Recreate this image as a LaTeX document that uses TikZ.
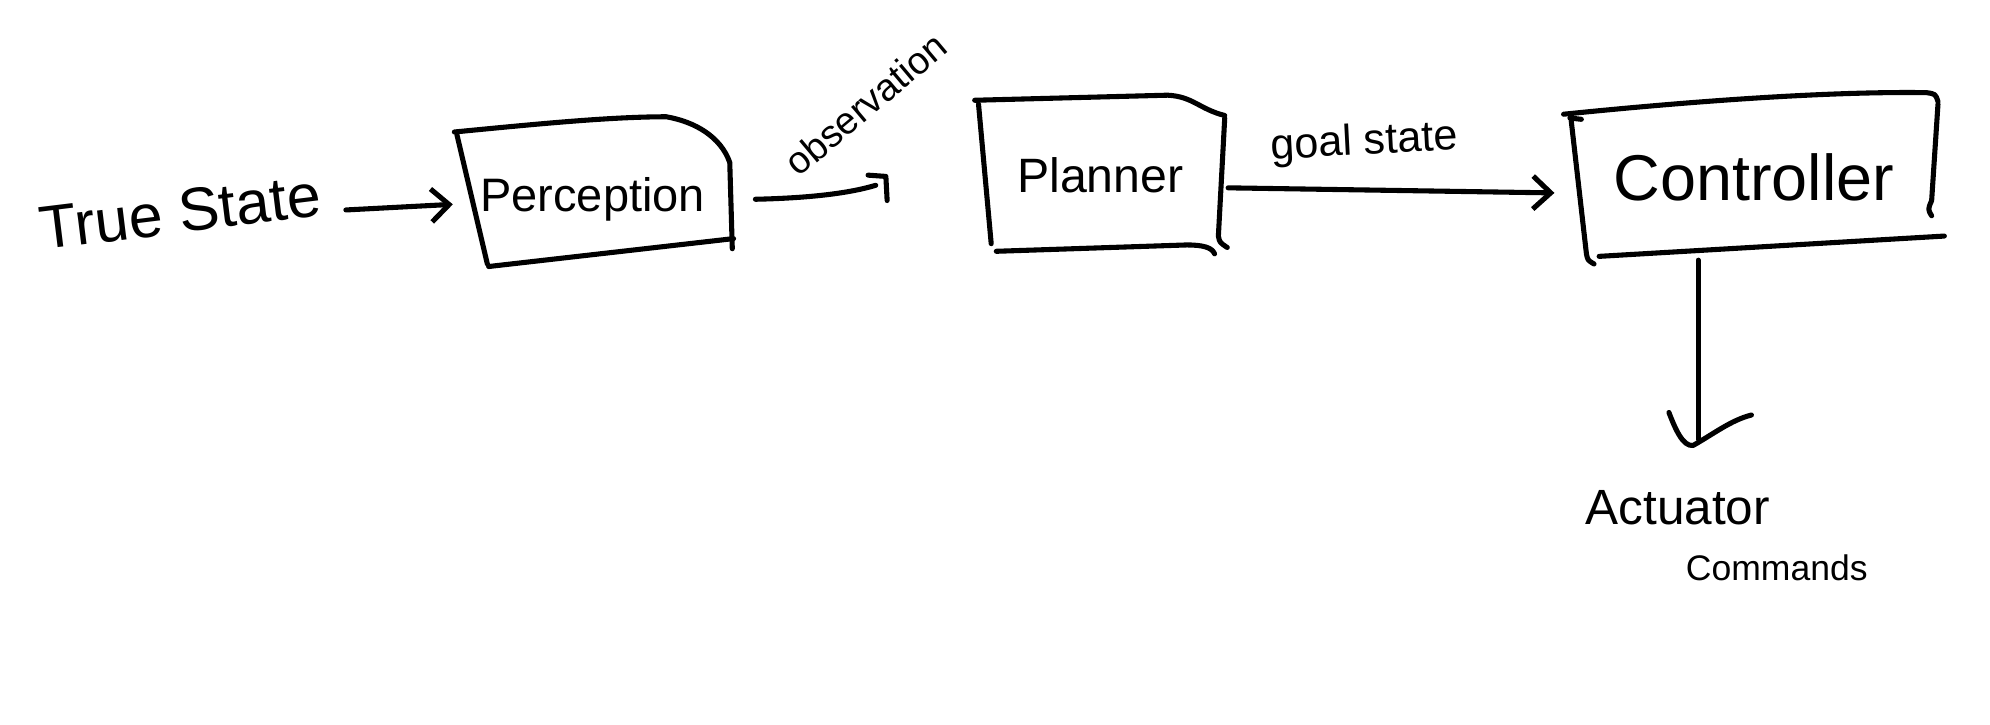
\documentclass[tikz,border=0pt]{standalone}
\usepackage{fontspec}
\setmainfont{Liberation Sans}
\usetikzlibrary{arrows.meta}
\begin{document}
\begin{tikzpicture}[x=1pt,y=1pt,
  pen/.style={line width=4pt, line cap=round, line join=round},
  con/.style={pen},
  barb/.style={-{Straight Barb[length=14pt,width=26pt,line width=4pt]}},
  lbl/.style={inner sep=0pt},
  blk/.style={inner sep=0pt}]
\useasboundingbox[fill=white] (0,0) rectangle (1568,-571);

% nodes
\node[lbl, rotate=7, font=\fontsize{48}{52}\selectfont] (ts) at (142,-167) {True State};
\node[blk, minimum width=220pt, minimum height=110pt, font=\fontsize{37}{40}\selectfont] (perc) at (467,-157) {Perception};
\node[blk, minimum width=195pt, minimum height=120pt, font=\fontsize{38}{40}\selectfont] (plan) at (867,-138) {Planner};
\node[blk, minimum width=290pt, minimum height=120pt, font=\fontsize{51}{54}\selectfont] (ctrl) at (1382,-140) {Controller};
\node[lbl, rotate=40, font=\fontsize{30}{34}\selectfont] (obs) at (682,-82) {observation};
\node[lbl, rotate=3, font=\fontsize{34}{38}\selectfont] (goal) at (1075,-113) {goal state};
\node[lbl, font=\fontsize{39}{43}\selectfont] (act) at (1322,-400) {Actuator};
\node[lbl, font=\fontsize{28}{32}\selectfont] (cmd) at (1400,-447) {Commands};

% Perception box
\draw[pen] (358,-104) .. controls (420,-98) and (480,-92) .. (525,-92)
           .. controls (548,-96) and (568,-108) .. (575,-128) -- (577,-196);
\draw[pen] (360,-106) -- (384,-208);
\draw[pen] (385,-210) -- (578,-188);

% Planner box
\draw[pen] (768,-79) -- (920,-75) .. controls (940,-76) and (945,-86) .. (965,-91);
\draw[pen] (965,-93) -- (960,-186) .. controls (961,-191) .. (967,-195);
\draw[pen] (771,-82) -- (781,-192);
\draw[pen] (785,-198) -- (935,-193) .. controls (948,-193) and (955,-195) .. (957,-200);

% Controller box
\draw[pen] (1232,-90) .. controls (1350,-78) and (1450,-72) .. (1518,-73) .. controls (1525,-74) .. (1527,-80);
\draw[pen] (1237,-93) -- (1246,-94);
\draw[pen] (1527,-82) -- (1522,-158) .. controls (1519,-165) .. (1522,-170);
\draw[pen] (1238,-95) -- (1250,-200) .. controls (1251,-205) .. (1256,-208);
\draw[pen] (1260,-202) -- (1532,-186);

% connectors
\draw[con, barb] ([shift={(20,-12)}]ts.east) -- ([shift={(0,-4)}]perc.west);

\coordinate (obsend) at (690,-146);
\draw[con] ([shift={(18,0)}]perc.east) .. controls (640,-156) and (670,-152) .. (obsend);
\draw[pen] ([shift={(-6,8)}]obsend) -- ([shift={(8,7)}]obsend) -- ([shift={(9,-12)}]obsend);

\draw[con, barb] ([shift={(3,-10)}]plan.east) -- ([shift={(-12,-12)}]ctrl.west);

\coordinate (downend) at (1338,-346);
\draw[con] ([shift={(-44,-65)}]ctrl.center) -- (downend);
\draw[pen] ([shift={(-23,21)}]downend) .. controls ([shift={(-18,8)}]downend) and ([shift={(-12,-6)}]downend) .. ([shift={(-4,-5)}]downend)
           .. controls ([shift={(12,4)}]downend) and ([shift={(26,15)}]downend) .. ([shift={(42,19)}]downend);
\end{tikzpicture}
\end{document}
